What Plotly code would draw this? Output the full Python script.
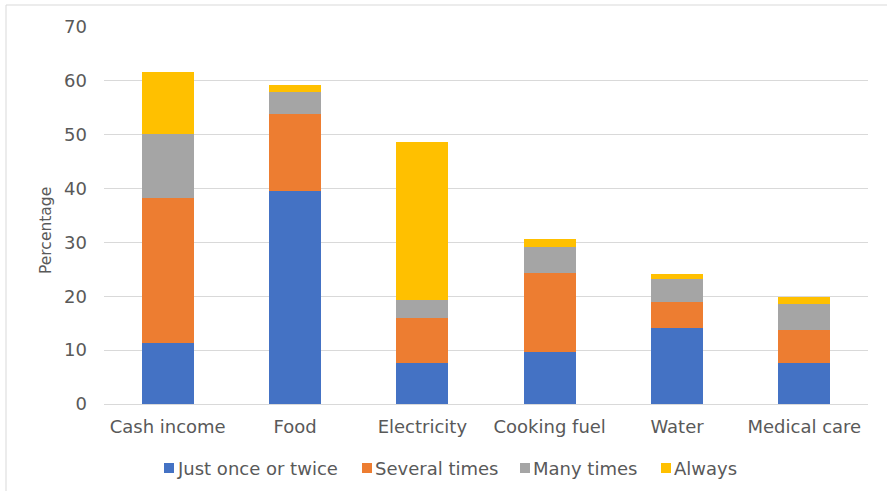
import plotly.graph_objects as go

categories = ["Cash income", "Food", "Electricity", "Cooking fuel", "Water", "Medical care"]
just_once = [11.3, 39.5, 7.6, 9.6, 14.2, 7.7]
several = [26.9, 14.3, 8.4, 14.7, 4.8, 6.0]
many = [12.0, 4.2, 3.3, 4.8, 4.3, 4.8]
always = [11.5, 1.3, 29.3, 1.5, 0.8, 1.3]

series_names = ["Just once or twice", "Several times", "Many times", "Always"]
series_values = [just_once, several, many, always]
series_colors = ["#4472C4", "#ED7D31", "#A5A5A5", "#FFC000"]
y_title = "Percentage"

# layout geometry (pixels)
W, H = 887, 491
ML, MR, MT, MB = 104, 19, 27, 87
PW, PH = W - ML - MR, H - MT - MB


def px_x(px):
    return (px - ML) / PW


def px_y(py):
    return (H - MB - py) / PH


fig = go.Figure()
for name, vals, color in zip(series_names, series_values, series_colors):
    fig.add_trace(go.Bar(x=categories, y=vals, name=name, showlegend=False,
                         marker=dict(color=color, line=dict(width=0))))

# custom legend (compact like the original)
legend_square_px = [164, 362, 520, 661]
legend_y_px = 468
shapes = []
annotations = []
for name, color, sx in zip(series_names, series_colors, legend_square_px):
    shapes.append(dict(type="rect", xref="paper", yref="paper",
                       x0=px_x(sx), x1=px_x(sx + 10),
                       y0=px_y(legend_y_px + 5), y1=px_y(legend_y_px - 5),
                       fillcolor=color, line=dict(width=0)))
    annotations.append(dict(text=name, xref="paper", yref="paper",
                            x=px_x(sx + 11), y=px_y(legend_y_px),
                            xanchor="left", yanchor="middle", showarrow=False,
                            font=dict(size=18, color="#595959")))

# y-axis title
annotations.append(dict(text=y_title, xref="paper", yref="paper",
                        x=px_x(46), y=px_y(231), xanchor="center", yanchor="middle",
                        textangle=-90, showarrow=False,
                        font=dict(size=15.5, color="#595959")))

# chart border
shapes.append(dict(type="rect", xref="paper", yref="paper",
                   x0=px_x(6), x1=px_x(W + 20), y0=px_y(H + 20), y1=px_y(5),
                   line=dict(color="#d9d9d9", width=1), layer="below"))

font_family = "DejaVu Sans, sans-serif"
fig.update_layout(
    barmode="stack",
    bargap=0.59,
    width=W, height=H,
    margin=dict(l=ML, r=MR, t=MT, b=MB),
    paper_bgcolor="white", plot_bgcolor="white",
    font=dict(family=font_family, size=18, color="#595959"),
    showlegend=False,
    xaxis=dict(showgrid=False, showline=True, linecolor="#d9d9d9", linewidth=1,
               tickfont=dict(size=18, color="#595959"), ticks="", ticklabelstandoff=6),
    yaxis=dict(range=[0, 70], dtick=10, showgrid=True, gridcolor="#d9d9d9", gridwidth=1,
               zeroline=False, tickfont=dict(size=18, color="#595959"),
               ticks="", ticklabelstandoff=16),
    shapes=shapes,
    annotations=annotations,
)
fig.write_html("out.html")
